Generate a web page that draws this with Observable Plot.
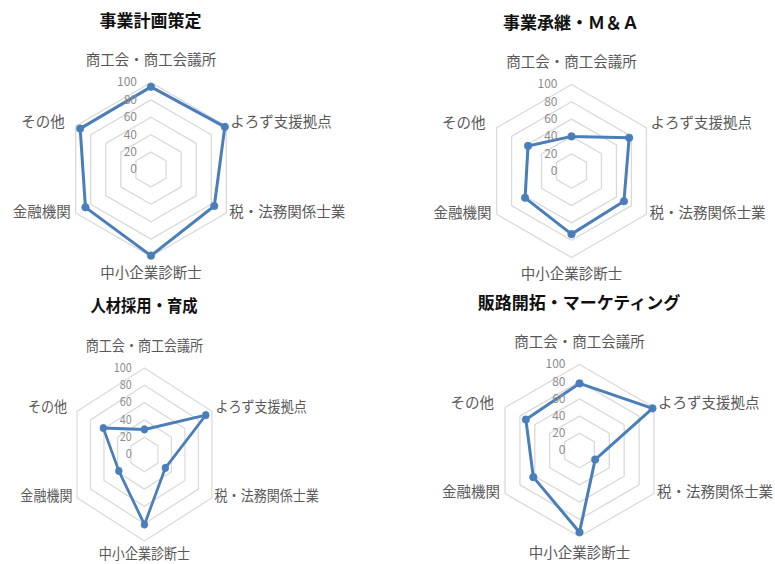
<!DOCTYPE html>
<html><head><meta charset="utf-8">
<script src="https://cdn.jsdelivr.net/npm/d3@7"></script>
<script src="https://cdn.jsdelivr.net/npm/@observablehq/plot@0.6"></script>
<style>
body{margin:0;background:#fff;}
#root{position:relative;width:775px;height:564px;overflow:hidden;background:#fff;font-family:"Noto Sans CJK JP",sans-serif;}
.panel{position:absolute;width:390px;height:285px;}
.title{position:absolute;width:300px;text-align:center;font-weight:bold;font-size:17px;line-height:18px;color:#111;white-space:nowrap;}
</style></head><body><div id="root"></div>
<script>
// ---- data ----
const categories = ["商工会・商工会議所","よろず支援拠点","税・法務関係士業","中小企業診断士","金融機関","その他"];
const titles = ["事業計画策定","事業承継・Ｍ＆Ａ","人材採用・育成","販路開拓・マーケティング"];
const planValues = [95, 98, 84, 99, 87, 94];
const successionValues = [40, 77, 70, 73, 62, 58];
const hrValues = [29, 91, 31, 81, 38, 61];
const salesValues = [78, 98, 21, 95, 62, 72];
const tickLabels = [0, 20, 40, 60, 80, 100];
const gridLevels = [20, 40, 60, 80, 100];

// ---- layout ----
const W = 390, H = 285;
const panels = [
  {title: titles[0], values: planValues,       left: 0,   top: 0,   cx: 150.5, cy: 169,   r: 87,   titleY: 20,   sx: 1,   bottomDy: 17},
  {title: titles[1], values: successionValues, left: 390, top: 0,   cx: 181,   cy: 170.5, r: 86.5, titleY: 21.5, sx: 1,   bottomDy: 17},
  {title: titles[2], values: hrValues,         left: 0,   top: 285, cx: 144,   cy: 169,   r: 86.5, titleY: 20,   sx: 0.9, bottomDy: 13},
  {title: titles[3], values: salesValues,      left: 390, top: 285, cx: 189,   cy: 165,   r: 86,   titleY: 17,   sx: 1,   bottomDy: 17}
];
// label offsets (px) from each axis' 100-vertex
const labelStyle = [
  {anchor: "middle", dx: 0,   dy: -22},
  {anchor: "start",  dx: 4,   dy: -4},
  {anchor: "start",  dx: 3,   dy: -1},
  {anchor: "middle", dx: 0,   dy: null},
  {anchor: "end",    dx: -5,  dy: -1},
  {anchor: "end",    dx: -11, dy: -4}
];
const n = categories.length;
const ang = i => i * 2 * Math.PI / n;
const px = (v, i) => v * Math.sin(ang(i));
const py = (v, i) => v * Math.cos(ang(i));
const blue = "#4a7ebb";
const font = '"Noto Sans CJK JP", sans-serif';

const root = document.getElementById("root");
for (const p of panels) {
  const div = document.createElement("div");
  div.className = "panel";
  div.style.left = p.left + "px";
  div.style.top = p.top + "px";
  if (p.sx !== 1) { div.style.transform = `scaleX(${p.sx})`; div.style.transformOrigin = `${p.cx}px 0`; }
  const t = document.createElement("div");
  t.className = "title";
  t.textContent = p.title;
  t.style.left = (p.cx - 150) + "px";
  t.style.top = (p.titleY - 9) + "px";

  const k = p.r / 100;
  const grid = gridLevels.flatMap(L => d3.range(n + 1).map(i => ({level: L, x: px(L, i % n), y: py(L, i % n)})));
  const pts = p.values.map((v, i) => ({cat: categories[i], i, v, x: px(v, i), y: py(v, i)}));
  const closed = [...pts, pts[0]];
  const labels = categories.map((c, i) => ({c, i, x: px(100, i), y: py(100, i)}));

  const marks = [
    Plot.line(grid, {x: "x", y: "y", z: "level", stroke: "#d9d9d9", strokeWidth: 1.3}),
    Plot.line(closed, {x: "x", y: "y", stroke: blue, strokeWidth: 3, strokeLinejoin: "round"}),
    Plot.dot(pts, {x: "x", y: "y", r: 3.8, fill: blue, stroke: blue, strokeWidth: 0.5}),
    Plot.text(tickLabels, {x: () => 0, y: d => d, text: d => String(d), textAnchor: "end", dx: -14, fill: "#8c8c8c", fontSize: 12, fontFamily: font}),
    ...labelStyle.map((s, i) => Plot.text(labels.filter(d => d.i === i), {
      x: "x", y: "y", text: "c", textAnchor: s.anchor, dx: s.dx, dy: s.dy == null ? p.bottomDy : s.dy,
      fill: "#595959", fontSize: 14.5, fontFamily: font
    }))
  ];
  const chart = Plot.plot({
    width: W, height: H, margin: 0,
    x: {type: "linear", domain: [-p.cx / k, (W - p.cx) / k], range: [0, W], axis: null},
    y: {type: "linear", domain: [-(H - p.cy) / k, p.cy / k], range: [H, 0], axis: null},
    style: {fontFamily: font, background: "transparent", overflow: "visible"},
    marks
  });
  chart.style.position = "absolute";
  chart.style.left = "0px";
  chart.style.top = "0px";
  div.appendChild(chart);
  div.appendChild(t);
  root.appendChild(div);
}
</script></body></html>
